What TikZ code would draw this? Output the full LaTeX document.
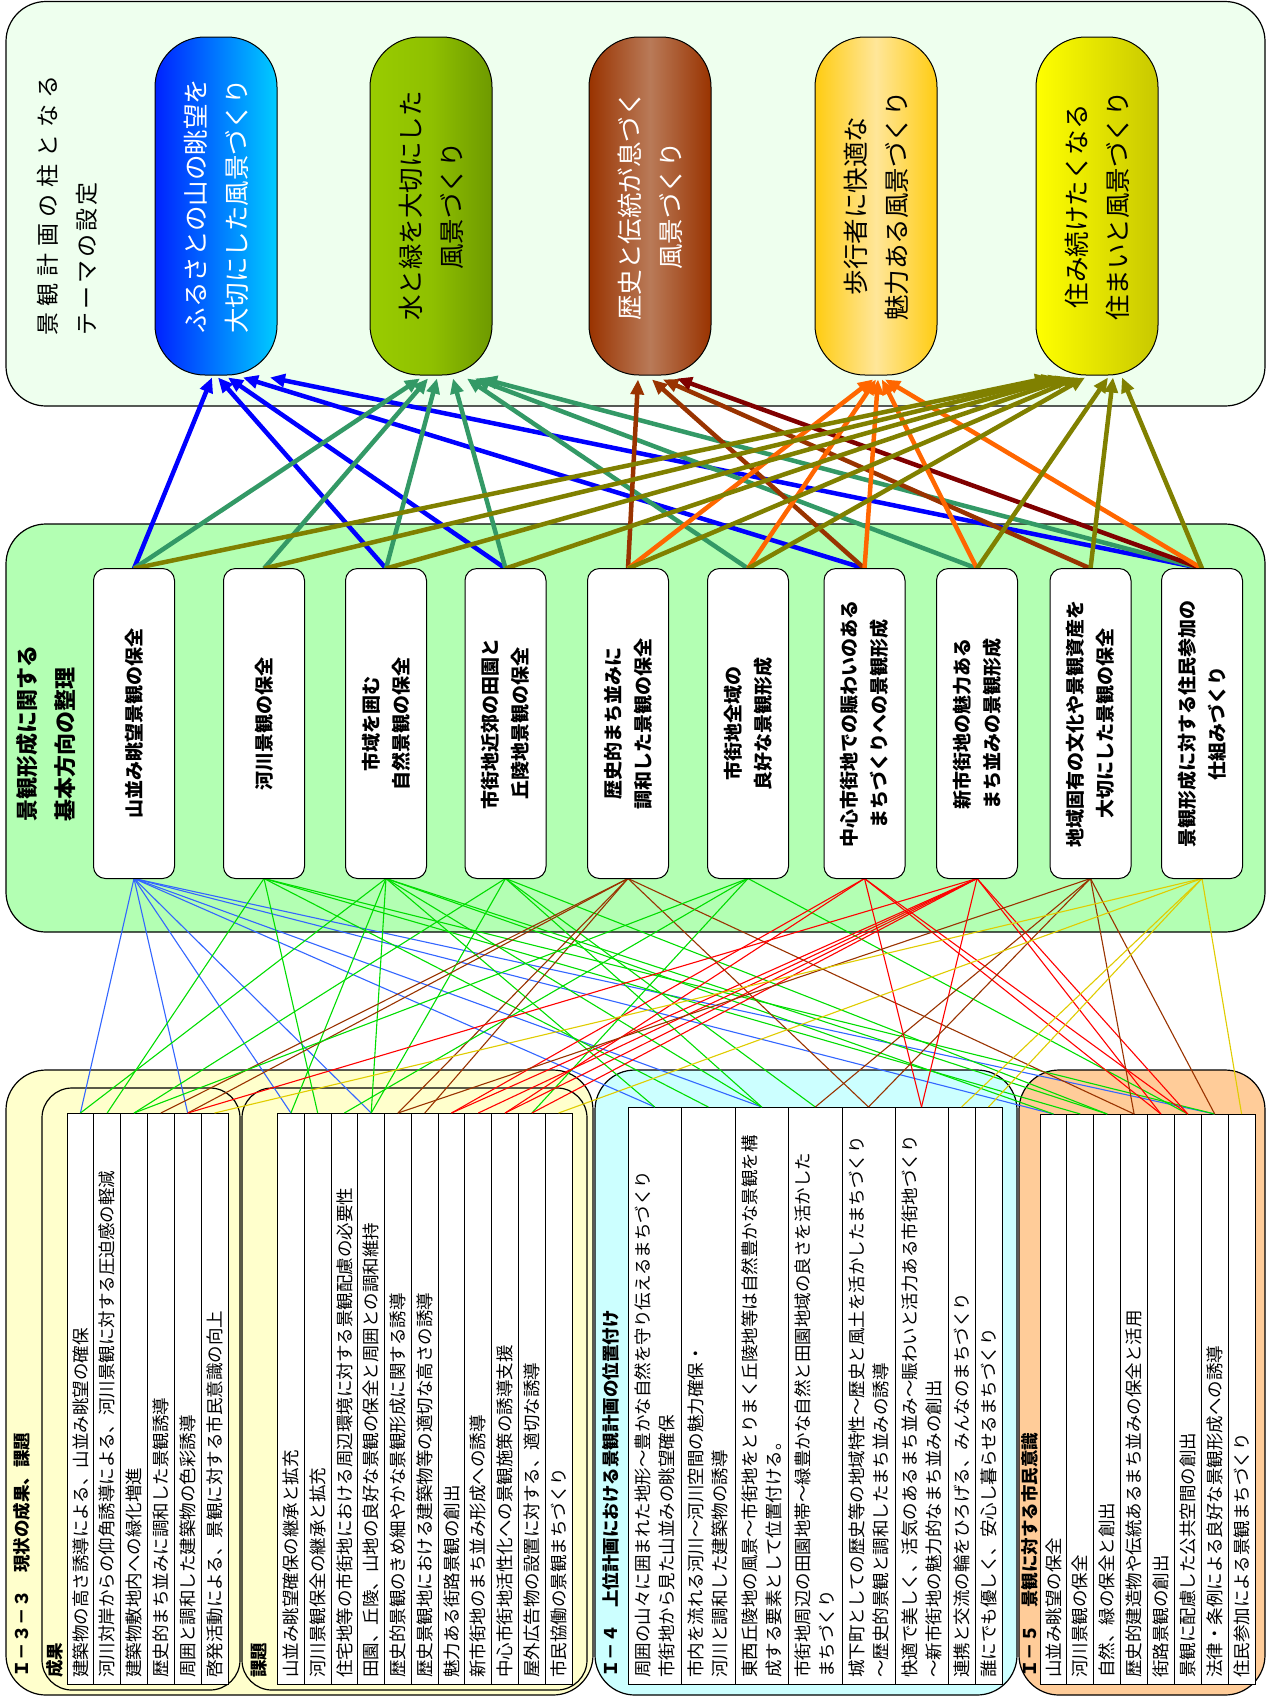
\documentclass[tikz,border=0pt]{standalone}
\usepackage{fontspec}
\setmainfont{Noto Sans CJK JP}
\usetikzlibrary{arrows.meta}
\definecolor{topbg}{HTML}{EEFFEE}
\definecolor{midbg}{HTML}{B3FFB3}
\definecolor{ylbg}{HTML}{FFFFCC}
\definecolor{cybg}{HTML}{CCFFFF}
\definecolor{orbg}{HTML}{FFCC99}
\definecolor{aBlue}{HTML}{0000FF}
\definecolor{aTeal}{HTML}{339966}
\definecolor{aBrown}{HTML}{993300}
\definecolor{aDark}{HTML}{800000}
\definecolor{aOrange}{HTML}{FF6600}
\definecolor{aOlive}{HTML}{808000}
\definecolor{lBlue}{HTML}{3366FF}
\definecolor{lGreen}{HTML}{00DD00}
\definecolor{lBrown}{HTML}{993300}
\definecolor{lRed}{HTML}{FF0000}
\definecolor{lYellow}{HTML}{E0CC00}
\definecolor{pBlueL}{HTML}{0022FF}
\definecolor{pBlueR}{HTML}{00CCFF}
\definecolor{pGrnL}{HTML}{99CC00}
\definecolor{pGrnM}{HTML}{8FC000}
\definecolor{pGrnR}{HTML}{6E9A00}
\definecolor{pBrnE}{HTML}{993300}
\definecolor{pBrnM}{HTML}{B97A58}
\definecolor{pOrE}{HTML}{FFCC11}
\definecolor{pOrM}{HTML}{FFE699}
\definecolor{pYelL}{HTML}{FFFF00}
\definecolor{pYelR}{HTML}{C8C800}
\newcommand\tgap{\hspace{6.7pt}}
\newcommand\tgapb{\hspace{3pt}}
\begin{document}
\begin{tikzpicture}[x=1pt,y=-1pt,
  panel/.style={draw=black,line width=1.2pt,rounded corners=40pt},
  subpanel/.style={draw=black,line width=1.2pt,rounded corners=30pt},
  pill/.style={draw=black,line width=1pt,rounded corners=50pt,minimum width=122pt,minimum height=338pt,inner sep=0pt},
  bx/.style={draw=black,fill=white,line width=1pt,rounded corners=12pt,minimum width=80pt,minimum height=309pt,inner sep=0pt},
  thk/.style={line width=4.5pt,-{Triangle[length=15pt,width=13pt]}},
  thn/.style={line width=1.1pt},
  vtext/.style={rotate=90,inner sep=0pt},
  pilltxt/.style={vtext,align=center,font=\fontsize{25.5pt}{41pt}\selectfont},
  bxtxt/.style={vtext,align=center,font=\bfseries\fontsize{19pt}{30pt}\selectfont},
  rtxt/.style={vtext,anchor=west,font=\fontsize{17.5pt}{20pt}\selectfont},
  htxt/.style={vtext,anchor=west,font=\bfseries\fontsize{17.5pt}{20pt}\selectfont},
  tbl/.style={draw=black,fill=white,line width=1pt}
]
\fill[white] (0,0) rectangle (1271,1698);
\useasboundingbox (0,0) rectangle (1271,1698);

% ---------- panels ----------
\draw[panel,fill=topbg] (6,1.5) rectangle (1265,406);
\draw[panel,fill=midbg] (6,524) rectangle (1265,932);
\draw[panel,fill=ylbg] (6,1070) rectangle (593,1695);
\draw[panel,fill=cybg] (595,1070) rectangle (1017,1695);
\draw[panel,fill=orbg] (1019,1070) rectangle (1265,1695);
\draw[subpanel] (42,1088) rectangle (240,1690);
\draw[subpanel] (242,1088) rectangle (587,1690);

% ---------- tables ----------
\draw[tbl] (67,1113) rectangle (228,1684);
\foreach \x in {93.8,120.7,147.5,174.3,201.2} \draw[line width=1pt] (\x,1113) -- (\x,1684);
\draw[tbl] (277.5,1113) rectangle (572,1684);
\foreach \x in {304.3,331.0,357.8,384.6,411.4,438.2,464.9,491.7,518.5,545.3} \draw[line width=1pt] (\x,1113) -- (\x,1684);
\draw[tbl] (628,1107) rectangle (1002,1684);
\foreach \x in {681.5,735,788.5,842,895,948,975} \draw[line width=1pt] (\x,1107) -- (\x,1684);
\draw[tbl] (1040,1114) rectangle (1255,1684);
\foreach \x in {1066.9,1093.8,1120.6,1147.5,1174.4,1201.3,1228.1} \draw[line width=1pt] (\x,1114) -- (\x,1684);

% row-top coordinates
\coordinate (S1) at (80.4,1113); \coordinate (S2) at (107.2,1113); \coordinate (S3) at (134.1,1113);
\coordinate (S4) at (160.9,1113); \coordinate (S5) at (187.7,1113); \coordinate (S6) at (214.6,1113);
\coordinate (K1) at (290.9,1113); \coordinate (K2) at (317.7,1113); \coordinate (K3) at (344.4,1113);
\coordinate (K4) at (371.2,1113); \coordinate (K5) at (398.0,1113); \coordinate (K6) at (424.8,1113);
\coordinate (K7) at (451.5,1113); \coordinate (K8) at (478.3,1113); \coordinate (K9) at (505.1,1113);
\coordinate (K10) at (531.9,1113); \coordinate (K11) at (558.6,1113);
\coordinate (I1) at (654.8,1107); \coordinate (I2) at (708.3,1107); \coordinate (I3) at (761.8,1107);
\coordinate (I4) at (815.3,1107); \coordinate (I5) at (868.5,1107); \coordinate (I6) at (921.5,1107);
\coordinate (I7) at (961.5,1107); \coordinate (I8) at (988.5,1107);
\coordinate (C1) at (1053.4,1114); \coordinate (C2) at (1080.3,1114); \coordinate (C3) at (1107.2,1114);
\coordinate (C4) at (1134.1,1114); \coordinate (C5) at (1160.9,1114); \coordinate (C6) at (1187.8,1114);
\coordinate (C7) at (1214.7,1114); \coordinate (C8) at (1241.6,1114);

% ---------- pills ----------
\node[pill,left color=pBlueL,right color=pBlueR] (P1) at (216,206) {};
\node[pill,left color=pGrnL,right color=pGrnR,middle color=pGrnM] (P2) at (431,206) {};
\node[pill,left color=pBrnE,right color=pBrnE,middle color=pBrnM] (P3) at (650,206) {};
\node[pill,left color=pOrE,right color=pOrE,middle color=pOrM] (P4) at (876,206) {};
\node[pill,left color=pYelL,right color=pYelR] (P5) at (1097,206) {};

% ---------- boxes (shapes) ----------
\node[bx] (B1) at (134,723.5) {};
\node[bx] (B2) at (264,723.5) {};
\node[bx] (B3) at (386,723.5) {};
\node[bx] (B4) at (505.5,723.5) {};
\node[bx] (B5) at (628,723.5) {};
\node[bx] (B6) at (748,723.5) {};
\node[bx] (B7) at (864.5,723.5) {};
\node[bx] (B8) at (977,723.5) {};
\node[bx] (B9) at (1090.5,723.5) {};
\node[bx] (B10) at (1202,723.5) {};

% ---------- thin connectors ----------
\foreach \t in {S1,S5,K1,K4,I1,I3,C1,C7} \draw[thn,lBlue] (B1.south) -- (\t);
\foreach \t in {S2,K2,I2,C2,C7} \draw[thn,lGreen] (B2.south) -- (\t);
\foreach \t in {S1,K1,K4,I1,I3,C1,C3} \draw[thn,lGreen] (B3.south) -- (\t);
\foreach \t in {S3,K4,I3,I4,C3} \draw[thn,lGreen] (B4.south) -- (\t);
\foreach \t in {S4,S5,K5,K6,I5,C4} \draw[thn,lBrown] (B5.south) -- (\t);
\foreach \t in {S3,K3,K10,C6} \draw[thn,lGreen] (B6.south) -- (\t);
\foreach \t in {K7,K9,I6,C5,C6} \draw[thn,lRed] (B7.south) -- (\t);
\foreach \t in {S5,K7,K8,K9,K10,I6,C5,C6} \draw[thn,lRed] (B8.south) -- (\t);
\foreach \t in {K5,I4,I5,C4,C7} \draw[thn,lBrown] (B9.south) -- (\t);
\foreach \t in {S6,K11,I7,I8,C8} \draw[thn,lYellow] (B10.south) -- (\t);

% ---------- thick arrows ----------
\foreach \s/\d in {B1/-4,B3/2,B4/12,B7/27,B10/54}
  \draw[thk,aBlue] (\s.north) -- ([xshift=\d pt,yshift=-2pt]P1.south);
\foreach \s/\d in {B1/-11,B2/-3,B3/6,B4/22,B6/36,B8/44,B10/51}
  \draw[thk,aTeal] (\s.north) -- ([xshift=\d pt,yshift=-3pt]P2.south);
\foreach \s/\d in {B5/-12,B7/2,B9/13}
  \draw[thk,aBrown] (\s.north) -- ([xshift=\d pt,yshift=-4pt]P3.south);
\draw[thk,aDark] (B10.north) -- ([xshift=27pt,yshift=-3pt]P3.south);
\foreach \s/\d in {B5/-3,B6/0,B7/2,B8/6,B10/9}
  \draw[thk,aOrange] (\s.north) -- ([xshift=\d pt,yshift=-4pt]P4.south);
\foreach \s/\d in {B1/-47,B2/-40,B3/-33,B4/-26,B5/-19,B6/-12,B8/11,B9/16,B10/25}
  \draw[thk,aOlive] (\s.north) -- ([xshift=\d pt,yshift=-2pt]P5.south);

% redraw box shapes on top of connector ends
\foreach \b in {B1,B2,B3,B4,B5,B6,B7,B8,B9,B10}
  \draw[fill=white,line width=1pt,rounded corners=12pt] (\b.north west) rectangle (\b.south east);

% ---------- texts: top ----------
\node[vtext,anchor=west,font=\fontsize{23pt}{23pt}\selectfont] (T1) at (48,336) {景\tgap 観\tgap 計\tgap 画\tgap の\tgap 柱\tgap と\tgap な\tgap る};
\node[vtext,anchor=west,font=\fontsize{23pt}{23pt}\selectfont] (T2) at (87,336) {テ\tgapb ー\tgapb マ\tgapb の\tgapb 設\tgapb 定};

\node[pilltxt,text=white] at (P1) {ふるさとの山の眺望を\\大切にした風景づくり};
\node[pilltxt] at (P2) {水と緑を大切にした\\風景づくり};
\node[pilltxt,text=white] at (P3) {歴史と伝統が息づく\\風景づくり};
\node[pilltxt] at (P4) {歩行者に快適な\\魅力ある風景づくり};
\node[pilltxt] at (P5) {住み続けたくなる\\住まいと風景づくり};

% ---------- texts: middle ----------
\node[vtext,anchor=west,font=\bfseries\fontsize{22pt}{22pt}\selectfont] (T3) at (27,822) {景観形成に関する};
\node[vtext,anchor=west,font=\bfseries\fontsize{22pt}{22pt}\selectfont] (T4) at (65,822) {基本方向の整理};

\node[bxtxt] at (B1) {山並み眺望景観の保全};
\node[bxtxt] at (B2) {河川景観の保全};
\node[bxtxt] at (B3) {市域を囲む\\自然景観の保全};
\node[bxtxt] at (B4) {市街地近郊の田園と\\丘陵地景観の保全};
\node[bxtxt] at (B5) {歴史的まち並みに\\調和した景観の保全};
\node[bxtxt] at (B6) {市街地全域の\\良好な景観形成};
\node[bxtxt] at (B7) {中心市街地での賑わいのある\\まちづくりへの景観形成};
\node[bxtxt] at (B8) {新市街地の魅力ある\\まち並みの景観形成};
\node[bxtxt] at (B9) {地域固有の文化や景観資産を\\大切にした景観の保全};
\node[bxtxt] at (B10) {景観形成に対する住民参加の\\仕組みづくり};

% ---------- texts: bottom ----------
\node[htxt] at (22,1678) {Ｉ－３－３　現状の成果、課題};
\node[htxt] at (55,1678) {成果};
\node[htxt] at (259,1678) {課題};
\node[htxt] at (611,1678) {Ｉ－４　上位計画における景観計画の位置付け};
\node[htxt] at (1030,1678) {Ｉ－５　景観に対する市民意識};

\node[rtxt] at (80.4,1678) {建築物の高さ誘導による、山並み眺望の確保};
\node[rtxt] at (107.2,1678) {河川対岸からの仰角誘導による、河川景観に対する圧迫感の軽減};
\node[rtxt] at (134.1,1678) {建築物敷地内への緑化増進};
\node[rtxt] at (160.9,1678) {歴史的まち並みに調和した景観誘導};
\node[rtxt] at (187.7,1678) {周囲と調和した建築物の色彩誘導};
\node[rtxt] at (214.6,1678) {啓発活動による、景観に対する市民意識の向上};

\node[rtxt] at (290.9,1678) {山並み眺望確保の継承と拡充};
\node[rtxt] at (317.7,1678) {河川景観保全の継承と拡充};
\node[rtxt] at (344.4,1678) {住宅地等の市街地における周辺環境に対する景観配慮の必要性};
\node[rtxt] at (371.2,1678) {田園、丘陵、山地の良好な景観の保全と周囲との調和維持};
\node[rtxt] at (398.0,1678) {歴史的景観のきめ細やかな景観形成に関する誘導};
\node[rtxt] at (424.8,1678) {歴史景観地における建築物等の適切な高さの誘導};
\node[rtxt] at (451.5,1678) {魅力ある街路景観の創出};
\node[rtxt] at (478.3,1678) {新市街地のまち並み形成への誘導};
\node[rtxt] at (505.1,1678) {中心市街地活性化への景観施策の誘導支援};
\node[rtxt] at (531.9,1678) {屋外広告物の設置に対する、適切な誘導};
\node[rtxt] at (558.6,1678) {市民協働の景観まちづくり};

\node[rtxt] at (643,1678) {周囲の山々に囲まれた地形～豊かな自然を守り伝えるまちづくり};
\node[rtxt] at (667,1678) {市街地から見た山並みの眺望確保};
\node[rtxt] at (696,1678) {市内を流れる河川～河川空間の魅力確保・};
\node[rtxt] at (720,1678) {河川と調和した建築物の誘導};
\node[rtxt] at (749.5,1678) {東西丘陵地の風景～市街地をとりまく丘陵地等は自然豊かな景観を構};
\node[rtxt] at (773.5,1678) {成する要素として位置付ける。};
\node[rtxt] at (803,1678) {市街地周辺の田園地帯～緑豊かな自然と田園地域の良さを活かした};
\node[rtxt] at (827,1678) {まちづくり};
\node[rtxt] at (856.5,1678) {城下町としての歴史等の地域特性～歴史と風土を活かしたまちづくり};
\node[rtxt] at (880.5,1678) {～歴史的景観と調和したまち並みの誘導};
\node[rtxt] at (909.5,1678) {快適で美しく、活気のあるまち並み～賑わいと活力ある市街地づくり};
\node[rtxt] at (933.5,1678) {～新市街地の魅力的なまち並みの創出};
\node[rtxt] at (961.5,1678) {連携と交流の輪をひろげる、みんなのまちづくり};
\node[rtxt] at (988.5,1678) {誰にでも優しく、安心し暮らせるまちづくり};

\node[rtxt] at (1053.4,1678) {山並み眺望の保全};
\node[rtxt] at (1080.3,1678) {河川景観の保全};
\node[rtxt] at (1107.2,1678) {自然、緑の保全と創出};
\node[rtxt] at (1134.1,1678) {歴史的建造物や伝統あるまち並みの保全と活用};
\node[rtxt] at (1160.9,1678) {街路景観の創出};
\node[rtxt] at (1187.8,1678) {景観に配慮した公共空間の創出};
\node[rtxt] at (1214.7,1678) {法律・条例による良好な景観形成への誘導};
\node[rtxt] at (1241.6,1678) {住民参加による景観まちづくり};
\end{tikzpicture}
\end{document}
